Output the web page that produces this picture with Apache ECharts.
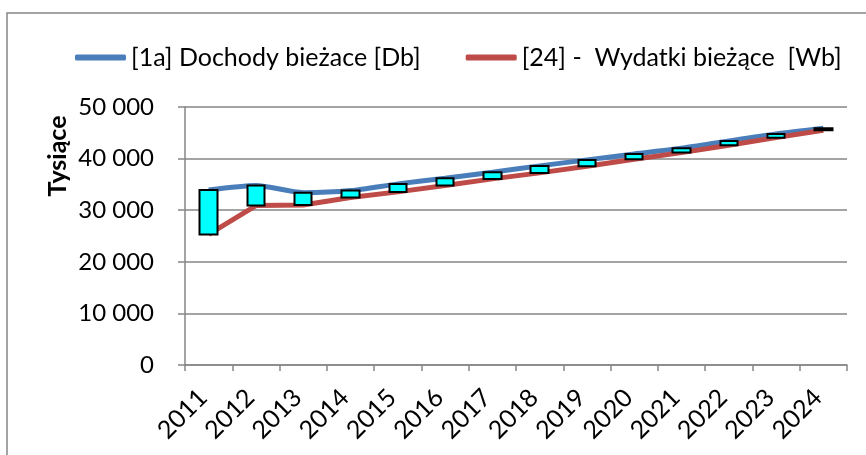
<!DOCTYPE html>
<html>
<head>
<meta charset="utf-8">
<script src="https://cdn.jsdelivr.net/npm/echarts@6/dist/echarts.min.js"></script>
<style>
  html, body { margin: 0; padding: 0; background: #fff; }
  #chart { width: 866px; height: 455px; }
</style>
</head>
<body>
<div id="chart"></div>
<script>
    // dane (tys. zł)
    const years = ['2011', '2012', '2013', '2014', '2015', '2016', '2017', '2018', '2019', '2020', '2021', '2022', '2023', '2024'];
    const dochody = [33900, 34800, 33400, 33800, 35100, 36200, 37370, 38590, 39750, 40900, 42000, 43420, 44780, 45900];
    const wydatki = [25300, 30900, 31000, 32450, 33550, 34780, 36070, 37230, 38530, 39880, 41160, 42590, 44060, 45500];
    const yTicks = [0, 10000, 20000, 30000, 40000, 50000];

    const nameDb = '[1a] Dochody bieżace [Db]';
    const nameWb = '[24] -  Wydatki bieżące  [Wb]';

    // słupki wzrostu/spadku (jak w Excelu) - od wydatków do dochodów
    let boxes = years.map(function (y, i) {
        return [wydatki[i], dochody[i], Math.min(wydatki[i], dochody[i]), Math.max(wydatki[i], dochody[i])];
    });

    let chart = echarts.init(document.getElementById('chart'));
    let font = 'Lato, "Open Sans", sans-serif';
    let option = {
        animation: false,
        textStyle: { fontFamily: font },
        grid: {
            left: 185,
            right: 19,
            top: 107,
            bottom: 90
        },
        legend: {
            left: 70,
            top: 40,
            itemWidth: 51,
            itemHeight: 6,
            itemGap: 45,
            icon: 'roundRect',
            textStyle: { fontFamily: font, fontSize: 25, color: '#000' },
            data: [nameDb, nameWb]
        },
        graphic: [
            {
                type: 'rect',
                shape: { x: 7, y: 13, width: 900, height: 500 },
                style: { fill: 'none', stroke: '#878787', lineWidth: 1.5 },
                z: -1
            },
            {
                type: 'text',
                x: 58,
                y: 156,
                rotation: Math.PI / 2,
                style: {
                    text: 'Tysiące',
                    font: 'bold 25px ' + font,
                    fill: '#000',
                    align: 'center',
                    verticalAlign: 'middle'
                }
            }
        ],
        xAxis: {
            type: 'category',
            data: years,
            boundaryGap: true,
            axisLine: { lineStyle: { color: '#868686', width: 1.5 } },
            axisTick: { show: true, length: 6, lineStyle: { color: '#868686', width: 1.5 } },
            axisLabel: {
                interval: 0,
                rotate: 45,
                margin: 23,
                padding: [0, 8, 0, 0],
                fontSize: 25,
                color: '#000',
                fontFamily: font
            }
        },
        yAxis: {
            type: 'value',
            min: yTicks[0],
            max: yTicks[yTicks.length - 1],
            interval: 10000,
            axisLine: { show: true, lineStyle: { color: '#868686', width: 1.5 } },
            axisTick: { show: true, length: 7, lineStyle: { color: '#868686', width: 1.5 } },
            splitLine: { lineStyle: { color: '#868686', width: 1.5 } },
            axisLabel: {
                margin: 31,
                fontSize: 24,
                color: '#000',
                fontFamily: font,
                formatter: function (v) {
                    return String(v).replace(/\B(?=(\d{3})+(?!\d))/g, ' ');
                }
            }
        },
        series: [
            {
                name: nameDb,
                type: 'line',
                data: dochody,
                smooth: 0.25,
                showSymbol: false,
                lineStyle: { color: '#4A7EBB', width: 5 },
                itemStyle: { color: '#4A7EBB' },
                z: 2
            },
            {
                name: nameWb,
                type: 'line',
                data: wydatki,
                showSymbol: false,
                lineStyle: { color: '#BE4B48', width: 5 },
                itemStyle: { color: '#BE4B48' },
                z: 2
            },
            {
                name: 'updown',
                type: 'candlestick',
                data: boxes,
                barWidth: 18,
                itemStyle: {
                    color: '#00FFFF',
                    borderColor: '#000',
                    color0: '#00FFFF',
                    borderColor0: '#000',
                    borderWidth: 2
                },
                z: 3
            }
        ]
    };
    chart.setOption(option);
</script>
</body>
</html>
